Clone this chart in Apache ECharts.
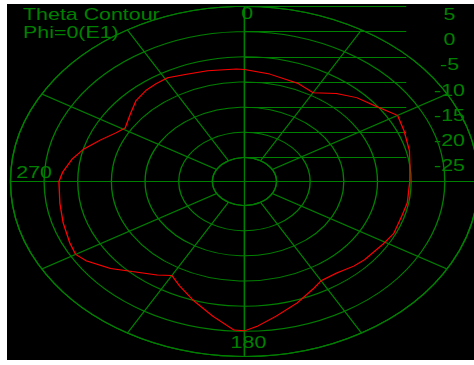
<!DOCTYPE html>
<html><head><meta charset="utf-8">
<script src="https://cdn.jsdelivr.net/npm/echarts@6/dist/echarts.min.js"></script>
<style>
html,body{margin:0;padding:0;background:#fff;width:474px;height:365px;overflow:hidden;}
#chart{position:absolute;left:7px;top:4px;width:350px;height:356px;transform:scaleX(1.337);transform-origin:0 0;}
</style></head><body><div id="chart"></div>
<script>
// ---- data ----
const titleLines = ['Theta Contour', 'Phi=0(E1)'];
const radiusTicks = [-25, -20, -15, -10, -5, 0, 5];
const angleLabelValues = [0, 180, 270];
const thetaDeg = [0,10,22,30,38,45,53,60,67,76,83,90,100,106,115,121,131,136,143,150,154,162,170,176,180,183,190,198,205,210,215,223,229,236,240,245,253,261,270,274,280,285,291,297,301,308,315,321,326,331,338,346,357,360];
const gainDb = [-7.5,-8.1,-8.7,-9.4,-7.6,-6.2,-5.1,-3.5,-4.0,-4.5,-5.0,-5.2,-5.2,-5.4,-5.3,-5.7,-6.1,-6.4,-7.0,-7.0,-6.2,-4.4,-2.6,-1.0,-0.1,-0.2,-2.6,-5.0,-6.9,-8.2,-7.1,-5.3,-3.4,-1.5,-0.8,-1.1,-1.6,-2.0,-2.2,-2.7,-3.8,-5.0,-6.8,-8.4,-9.1,-8.2,-7.0,-6.5,-6.3,-6.2,-6.8,-7.1,-7.4,-7.5];
// centre cross (through the pole), in the unit radius of a helper polar system
const crossVertical = [[1, 0], [1, 180]];
const crossHorizontal = [[1, 270], [1, 90]];

const GREEN = '#008000';
const FONT = "'Liberation Sans', Arial, sans-serif";
const chart = echarts.init(document.getElementById('chart'), null, {renderer: 'svg'});
function tok(pad) { return {padding: pad, color: GREEN, fontSize: 16, fontFamily: FONT}; }
const option = {
  backgroundColor: '#000',
  animation: false,
  title: {
    text: titleLines.join('\n'), left: 12, top: 1, padding: 0,
    textStyle: {color: GREEN, fontSize: 16, fontWeight: 'normal', fontFamily: FONT, lineHeight: 18}
  },
  polar: [
    {center: [177.6, 177.5], radius: [24, 175]},
    {center: [177.6, 177.5], radius: [0, 175]}
  ],
  angleAxis: [{
    polarIndex: 0,
    type: 'value', min: 0, max: 360, interval: 30, startAngle: 90, clockwise: true,
    axisLine: {show: true, lineStyle: {color: GREEN, width: 1}},
    axisTick: {show: false},
    splitLine: {show: true, lineStyle: {color: GREEN, width: 1}},
    axisLabel: {
      show: true, margin: -31, color: GREEN, fontSize: 16, fontFamily: FONT,
      formatter: function (v) {
        return angleLabelValues.indexOf(v) >= 0 ? '{a' + v + '|' + v + '}' : '';
      },
      rich: {a0: tok([0, 0, 16, 4]), a180: tok([9, 0, 0, 6]), a270: tok([0, 0, 18, 0])}
    }
  }, {
    polarIndex: 1,
    type: 'value', min: 0, max: 360, startAngle: 90, clockwise: true,
    axisLine: {show: false}, axisTick: {show: false}, splitLine: {show: false}, axisLabel: {show: false}
  }],
  radiusAxis: [{
    polarIndex: 0,
    type: 'value', min: radiusTicks[0], max: radiusTicks[radiusTicks.length - 1], interval: 5,
    axisLine: {show: false},
    axisTick: {show: true, length: -121, lineStyle: {color: GREEN, width: 1}},
    splitLine: {show: true, lineStyle: {color: GREEN, width: 1}},
    axisLabel: {
      show: true, margin: -153.4, align: 'center', verticalAlign: 'middle',
      color: GREEN, fontSize: 16, fontFamily: FONT,
      formatter: function (v) { return '{r|' + v + '}'; },
      rich: {r: tok([16, 0, 0, 0])}
    }
  }, {
    polarIndex: 1,
    type: 'value', min: 0, max: 1,
    axisLine: {show: false}, axisTick: {show: false}, splitLine: {show: false}, axisLabel: {show: false}
  }],
  series: [
    {type: 'line', coordinateSystem: 'polar', polarIndex: 1, data: crossVertical, symbol: 'none', silent: true, clip: false,
     lineStyle: {color: GREEN, width: 1}, z: 1},
    {type: 'line', coordinateSystem: 'polar', polarIndex: 1, data: crossHorizontal, symbol: 'none', silent: true, clip: false,
     lineStyle: {color: GREEN, width: 1}, z: 1},
    {type: 'line', name: titleLines[1], coordinateSystem: 'polar', polarIndex: 0, symbol: 'none', smooth: false,
     data: thetaDeg.map(function (t, i) { return [gainDb[i], t]; }),
     lineStyle: {color: '#ff0000', width: 1}, z: 3}
  ]
};
chart.setOption(option);
</script></body></html>
